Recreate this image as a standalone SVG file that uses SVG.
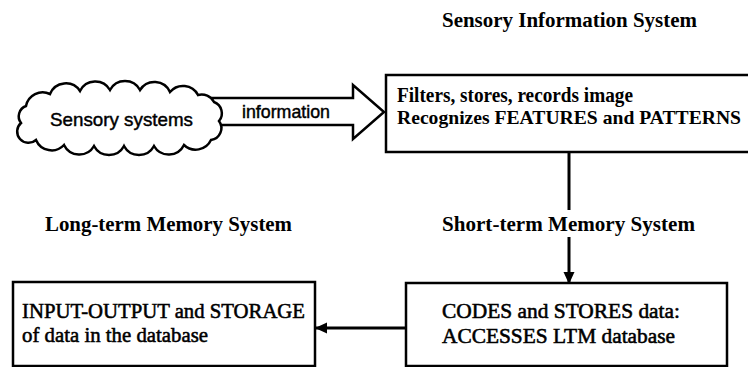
<svg xmlns="http://www.w3.org/2000/svg" width="748" height="367" viewBox="0 0 748 367">
<defs>
<style>
.box{fill:#fff;stroke:#000;stroke-width:2.5}
.ln{fill:none;stroke:#000;stroke-width:3}
.serif{font-family:"Liberation Serif","Times New Roman",serif;fill:#000}
.b{font-weight:bold}
.med{stroke:#000;stroke-width:0.55}
.sans{font-family:"Liberation Sans",Arial,sans-serif;fill:#000;stroke:#000;stroke-width:0.45}
</style>
<marker id="ah" viewBox="0 0 12 12" refX="11" refY="6" markerWidth="12" markerHeight="12" markerUnits="userSpaceOnUse" orient="auto">
<path d="M0,0.5 L12,6 L0,11.5 z" fill="#000"/>
</marker>
</defs>
<rect width="748" height="367" fill="#fff"/>

<g id="title-sis">
<text class="serif b" x="442" y="27" font-size="21" textLength="255" lengthAdjust="spacingAndGlyphs">Sensory Information System</text>
</g>

<g id="info-arrow">
<polygon class="box" points="205,98 353,98 353,85 384,112 353,139 353,125 205,125"/>
<text class="sans" x="242" y="118" font-size="19" textLength="88" lengthAdjust="spacingAndGlyphs">information</text>
</g>

<g id="sensory-systems">
<path class="box" d="M26,106 A17 17 0 0 1 50,94 A17 17 0 0 1 80,91 A17 17 0 0 1 110,90 A17 17 0 0 1 140,90 A17 17 0 0 1 170,92 A17 17 0 0 1 198,95 A14 14 0 0 1 214,102 A12 12 0 0 1 219,121 A12 12 0 0 1 211,140 A17 17 0 0 1 184,145 A17 17 0 0 1 154,146 A17 17 0 0 1 124,146 A17 17 0 0 1 94,146 A17 17 0 0 1 64,145 A17 17 0 0 1 36,140 A11 11 0 0 1 21,123 A11 11 0 0 1 26,106 Z"/>
<text class="sans" x="50" y="126" font-size="19" textLength="143" lengthAdjust="spacingAndGlyphs">Sensory systems</text>
</g>

<g id="sensory-info">
<rect class="box" x="386" y="75" width="380" height="77"/>
<text class="serif b" x="397" y="102" font-size="20" textLength="236" lengthAdjust="spacingAndGlyphs">Filters, stores, records image</text>
<text class="serif b" x="397" y="124" font-size="19.5" textLength="344" lengthAdjust="spacingAndGlyphs">Recognizes FEATURES and PATTERNS</text>
</g>

<g id="title-ltm">
<text class="serif b" x="45" y="231" font-size="21" textLength="247" lengthAdjust="spacingAndGlyphs">Long-term Memory System</text>
</g>

<g id="title-stm">
<text class="serif b" x="442" y="231" font-size="21" textLength="253" lengthAdjust="spacingAndGlyphs">Short-term Memory System</text>
</g>

<g id="stm">
<rect class="box" x="406" y="283" width="321" height="83"/>
<text class="serif med" x="442" y="318" font-size="21" textLength="238" lengthAdjust="spacingAndGlyphs">CODES and STORES data:</text>
<text class="serif med" x="442" y="343" font-size="21" textLength="233" lengthAdjust="spacingAndGlyphs">ACCESSES LTM database</text>
</g>

<g id="ltm">
<rect class="box" x="13" y="282" width="302" height="84"/>
<text class="serif med" x="22" y="318" font-size="21" textLength="283" lengthAdjust="spacingAndGlyphs">INPUT-OUTPUT and STORAGE</text>
<text class="serif med" x="22" y="342" font-size="21" textLength="186" lengthAdjust="spacingAndGlyphs">of data in the database</text>
</g>

<g id="connectors">
<path class="ln" d="M569,152 V210"/>
<path class="ln" d="M569,237 V283" marker-end="url(#ah)"/>
<path class="ln" d="M406,328 H316" marker-end="url(#ah)"/>
</g>
</svg>
